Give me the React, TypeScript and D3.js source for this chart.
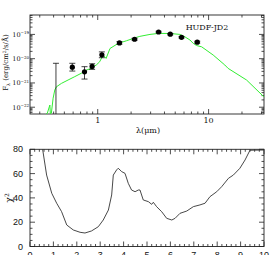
import React from "react";
import * as d3 from "d3";

// ---- Top panel data (SED) ----
const obsLambda = [0.59, 0.76, 0.89, 1.09, 1.57, 2.15, 3.54, 4.51, 5.7, 7.9];
const obsLogFlux = [-20.35, -20.54, -20.32, -19.84, -19.35, -19.2, -18.9, -18.99, -19.12, -19.32];
const obsErrUpDex = [0.16, 0.21, 0.11, 0.12, 0.05, 0.04, 0.03, 0.03, 0.03, 0.04];
const obsErrDownDex = [0.16, 0.3, 0.12, 0.12, 0.05, 0.04, 0.03, 0.03, 0.03, 0.04];

const limitLambda = [0.42];
const limitTopLogFlux = [-20.19];

const modelLambda = [
  0.342, 0.351, 0.37, 0.374, 0.382, 0.396, 0.41, 0.424, 0.47, 0.54, 0.621, 0.711,
  0.789, 0.875, 0.971, 1.04, 1.12, 1.19, 1.29, 1.53, 1.82, 2.24, 2.4, 2.96, 3.52,
  4.48, 5.51, 6.11, 6.79, 7.27, 7.8, 8.65, 11.0, 14.0, 15.0, 22.0, 31.5,
];
const modelLogFlux = [
  -22.35, -22.25, -21.91, -22.35, -22.24, -21.63, -21.29, -21.16, -21.02, -20.88, -20.74, -20.6,
  -20.47, -20.4, -20.26, -20.13, -19.85, -19.99, -19.58, -19.37, -19.26, -19.12, -19.08, -19.0, -18.96,
  -18.96, -19.0, -19.1, -19.23, -19.37, -19.46, -19.51, -19.85, -20.26, -20.4, -20.88, -21.57,
];

const yDecadeTicks = [-19, -20, -21, -22];
const xLogTickLabels = [1, 10];

// ---- Bottom panel data (chi^2 vs z) ----
const zValues = [
  0.54, 0.71, 0.93, 1.14, 1.35, 1.57, 1.85, 2.14, 2.35, 2.63, 2.92, 3.13, 3.35, 3.49, 3.56,
  3.7, 3.77, 3.92, 4.06, 4.2, 4.34, 4.49, 4.63, 4.7, 4.84, 5.06, 5.2, 5.27, 5.41, 5.63,
  5.84, 6.06, 6.2, 6.41, 6.7, 6.98, 7.26, 7.48, 7.69, 7.98, 8.19, 8.48, 8.69, 8.97, 9.19,
  9.4, 9.6, 10.0,
];
const chi2Values = [
  80, 58.8, 43.8, 35.6, 28.7, 17.7, 13.6, 11.7, 11.1, 12.8, 16.3, 21.8, 30, 42.4, 58.8,
  63, 64.4, 61.6, 60.2, 52, 46.5, 45.1, 46.5, 46.5, 38.3, 36.9, 34.7, 36.4, 32.8, 28.6,
  23.2, 21.8, 23.2, 27.3, 29.2, 32.8, 34.2, 35.6, 41, 45.1, 49.2, 56.1, 58.8, 64.4, 71.2,
  79.2, 79.3, 79.4,
];
const chiTicks = [0, 20, 40, 60, 80];
const zTicks = [0, 1, 2, 3, 4, 5, 6, 7, 8, 9, 10];

const W = 279;
const H = 255;

export default function App() {
  // top panel geometry
  const tL = 30, tR = 264, tT = 15, tB = 114;
  const x1 = d3.scaleLog().domain([0.245, 31.6]).range([tL, tR]);
  const y1 = d3.scaleLinear().domain([-22.28, -18.2]).range([tB, tT]);

  // bottom panel geometry
  const bL = 30, bR = 264, bT = 149.3, bB = 246.5;
  const x2 = d3.scaleLinear().domain([0, 10]).range([bL, bR]);
  const y2 = d3.scaleLinear().domain([0, 80]).range([bB, bT]);

  const major = 5, minor = 2.5;
  const serif = "'DejaVu Serif', 'Liberation Serif', serif";
  const sans = "'Liberation Sans', Arial, sans-serif";

  const xTicksTop: { v: number; m: boolean }[] = [];
  for (let e = -1; e <= 1; e++) {
    for (let k = 1; k <= 9; k++) {
      const v = k * Math.pow(10, e);
      if (v >= 0.245 && v <= 31.6) xTicksTop.push({ v, m: k === 1 });
    }
  }
  const yTicksTop: { v: number; m: boolean }[] = [];
  for (let e = -23; e <= -19; e++) {
    for (let k = 1; k <= 9; k++) {
      const v = e + Math.log10(k);
      if (v >= -22.28 && v <= -18.2) yTicksTop.push({ v, m: k === 1 });
    }
  }
  const zMinor: { v: number; m: boolean }[] = [];
  for (let i = 0; i <= 50; i++) zMinor.push({ v: i * 0.2, m: i % 5 === 0 });
  const chiMinor: { v: number; m: boolean }[] = [];
  for (let i = 0; i <= 16; i++) chiMinor.push({ v: i * 5, m: i % 4 === 0 });

  const modelLine = d3
    .line<number>()
    .x((_, i) => x1(modelLambda[i]))
    .y((_, i) => y1(Math.max(modelLogFlux[i], -22.28)));

  const chiLine = d3
    .line<number>()
    .x((_, i) => x2(zValues[i]))
    .y((_, i) => y2(Math.min(chi2Values[i], 80)));

  const stroke = "#222";

  return (
    <div style={{ position: "absolute", left: 0, top: 0 }}>
      <svg width={W} height={H} style={{ display: "block", background: "#fff" }}>
        <defs>
          <clipPath id="clipTop">
            <rect x={tL} y={tT} width={tR - tL} height={tB - tT} />
          </clipPath>
          <clipPath id="clipBot">
            <rect x={bL} y={bT - 1} width={bR - bL} height={bB - bT + 1} />
          </clipPath>
        </defs>

        {/* ---------- TOP PANEL ---------- */}
        <rect x={tL} y={tT} width={tR - tL} height={tB - tT} fill="none" stroke={stroke} strokeWidth={0.9} />
        {xTicksTop.map((t, i) => {
          const x = x1(t.v);
          const l = t.m ? major : minor;
          return (
            <g key={"xt" + i} stroke={stroke} strokeWidth={0.8}>
              <line x1={x} x2={x} y1={tB} y2={tB - l} />
              <line x1={x} x2={x} y1={tT} y2={tT + l} />
            </g>
          );
        })}
        {yTicksTop.map((t, i) => {
          const y = y1(t.v);
          const l = t.m ? major : minor;
          return (
            <g key={"yt" + i} stroke={stroke} strokeWidth={0.8}>
              <line x1={tL} x2={tL + l} y1={y} y2={y} />
              <line x1={tR} x2={tR - l} y1={y} y2={y} />
            </g>
          );
        })}
        {xLogTickLabels.map((v) => (
          <text key={"xl" + v} x={x1(v)} y={123} fontSize={8} fontFamily={serif} textAnchor="middle" fill="#111">
            {v}
          </text>
        ))}
        {yDecadeTicks.map((e) => (
          <text key={"yl" + e} x={29} y={y1(e) + 2.5} fontSize={6.5} fontFamily={serif} textAnchor="end" fill="#111">
            10
            <tspan fontSize={4} dy={-2.5}>
              {"\u2212" + Math.abs(e)}
            </tspan>
          </text>
        ))}
        <text
          transform={`translate(8, ${(tT + tB) / 2 - 2}) rotate(-90)`}
          fontSize={7}
          fontFamily={serif}
          textAnchor="middle"
          fill="#111"
        >
          F<tspan fontSize={4.5} dy={1.5}>λ</tspan>
          <tspan dy={-1.5}> (erg/cm</tspan>
          <tspan fontSize={4.5} dy={-2.5}>2</tspan>
          <tspan dy={2.5}>/s/Å)</tspan>
        </text>
        <text x={148} y={133} fontSize={8} fontFamily={serif} textAnchor="middle" fill="#111">
          λ(μm)
        </text>
        <text x={207} y={30} fontSize={8} fontFamily={serif} textAnchor="middle" fill="#111">
          HUDF-JD2
        </text>

        <g clipPath="url(#clipTop)">
          <path d={modelLine(modelLambda.map((d) => d)) || ""} fill="none" stroke="#33ee33" strokeWidth={1} />
          {limitLambda.map((l, i) => {
            const x = x1(l);
            const yt = y1(limitTopLogFlux[i]);
            return (
              <g key={"lim" + i} stroke="#111" strokeWidth={0.8}>
                <line x1={x} x2={x} y1={yt} y2={tB} />
                <line x1={x - 3} x2={x + 3} y1={yt} y2={yt} />
              </g>
            );
          })}
          {obsLambda.map((l, i) => {
            const x = x1(l);
            const y = y1(obsLogFlux[i]);
            const yu = y1(obsLogFlux[i] + obsErrUpDex[i]);
            const yd = y1(obsLogFlux[i] - obsErrDownDex[i]);
            return (
              <g key={"pt" + i}>
                <g stroke="#111" strokeWidth={0.8}>
                  <line x1={x} x2={x} y1={yu} y2={yd} />
                  <line x1={x - 3} x2={x + 3} y1={yu} y2={yu} />
                  <line x1={x - 3} x2={x + 3} y1={yd} y2={yd} />
                </g>
                <circle cx={x} cy={y} r={2.6} fill="#000" />
              </g>
            );
          })}
        </g>

        {/* ---------- BOTTOM PANEL ---------- */}
        <rect x={bL} y={bT} width={bR - bL} height={bB - bT} fill="none" stroke={stroke} strokeWidth={0.9} />
        {zMinor.map((t, i) => {
          const x = x2(t.v);
          const l = t.m ? major : minor;
          return (
            <g key={"zt" + i} stroke={stroke} strokeWidth={0.8}>
              <line x1={x} x2={x} y1={bB} y2={bB - l} />
              <line x1={x} x2={x} y1={bT} y2={bT + l} />
            </g>
          );
        })}
        {chiMinor.map((t, i) => {
          const y = y2(t.v);
          const l = t.m ? major : minor;
          return (
            <g key={"ct" + i} stroke={stroke} strokeWidth={0.8}>
              <line x1={bL} x2={bL + l} y1={y} y2={y} />
              <line x1={bR} x2={bR - l} y1={y} y2={y} />
            </g>
          );
        })}
        {chiTicks.map((v) => (
          <text key={"cl" + v} x={23} y={y2(v) + 3} fontSize={9} fontFamily={sans} textAnchor="end" fill="#111">
            {v}
          </text>
        ))}
        {zTicks.map((v) => (
          <text key={"zl" + v} x={x2(v)} y={258} fontSize={9} fontFamily={sans} textAnchor="middle" fill="#111">
            {v}
          </text>
        ))}
        <text
          transform={`translate(12, ${(bT + bB) / 2}) rotate(-90)`}
          fontSize={9}
          fontFamily={serif}
          textAnchor="middle"
          fill="#111"
        >
          χ<tspan fontSize={6} dy={-3}>2</tspan>
        </text>
        <g clipPath="url(#clipBot)">
          <path d={chiLine(zValues.map((d) => d)) || ""} fill="none" stroke="#333" strokeWidth={0.9} />
        </g>
      </svg>
    </div>
  );
}
